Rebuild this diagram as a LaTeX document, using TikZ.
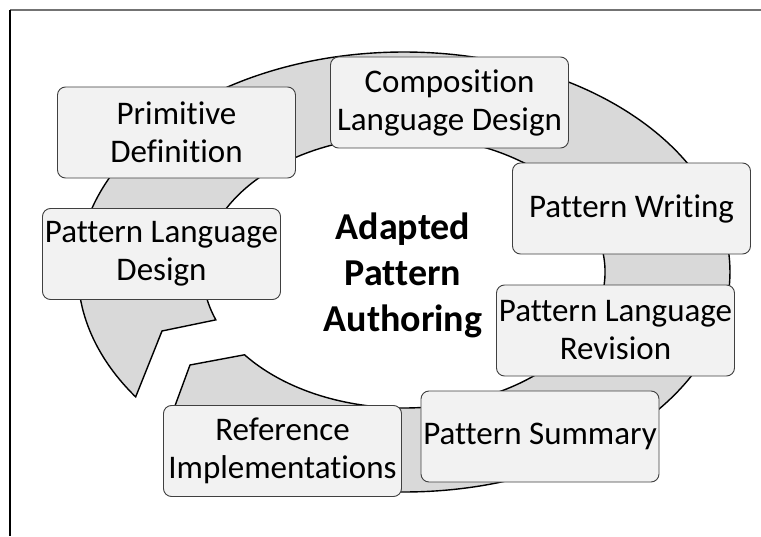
\documentclass[tikz,border=0pt]{standalone}
\usepackage{fontspec}
\setmainfont{Carlito}[RawFeature=-liga]
\usepackage{xcolor}
\definecolor{ringgray}{HTML}{D9D9D9}
\definecolor{boxgray}{HTML}{F2F2F2}
\definecolor{edgegray}{HTML}{404040}

\begin{document}
\begin{tikzpicture}[x=1pt, y=1pt,
        ring/.style={draw=black, line width=1.4pt, fill=ringgray},
        stepbox/.style={draw=edgegray, line width=0.9pt, fill=boxgray, rounded corners=8pt,
            minimum width=238pt, minimum height=91pt, inner sep=2pt, align=center,
            font=\fontsize{33}{38}\selectfont},
        title/.style={align=center, font=\fontsize{38}{46}\selectfont\bfseries}]
                \useasboundingbox (-404, -264) rectangle (357, 272);
                % frame
                \draw[black!55, line width=1.5pt] (-394, 262) -- (357, 262);
                \draw[black, line width=1.2pt] (-394, 262) -- (-394, -264);

                % the circular arrow
                \coordinate (headnotch) at (-242, -59);
                \coordinate (tailnotch) at (-214, -93);
                \draw[ring] (223.7:326pt and 220pt)
                    arc[start angle=223.7, end angle=574.6, x radius=326pt, y radius=220pt]
                    -- (headnotch) -- (560.6:201pt and 136pt)
                    arc[start angle=560.6, end angle=217.5, x radius=201pt, y radius=136pt]
                    -- (tailnotch) -- cycle;

                % steps
                \node[stepbox] (prim) at (-227.5, 139.5) {Primitive\\Definition};
                \node[stepbox] (comp) at (45.5, 169.5) {Composition\\Language Design};
                \node[stepbox] (writ) at (227.5, 63.5) {Pattern Writing};
                \node[stepbox] (rev) at (211.5, -58.5) {Pattern Language\\Revision};
                \node[stepbox] (summ) at (136, -164.5) {Pattern Summary};
                \node[stepbox] (ref) at (-121.5, -179) {Reference\\Implementations};
                \node[stepbox] (pld) at (-242.5, 18) {Pattern Language\\Design};

                \node[title] (apa) at (-1, -3) {Adapted\\Pattern\\Authoring};
            \end{tikzpicture}
\end{document}
